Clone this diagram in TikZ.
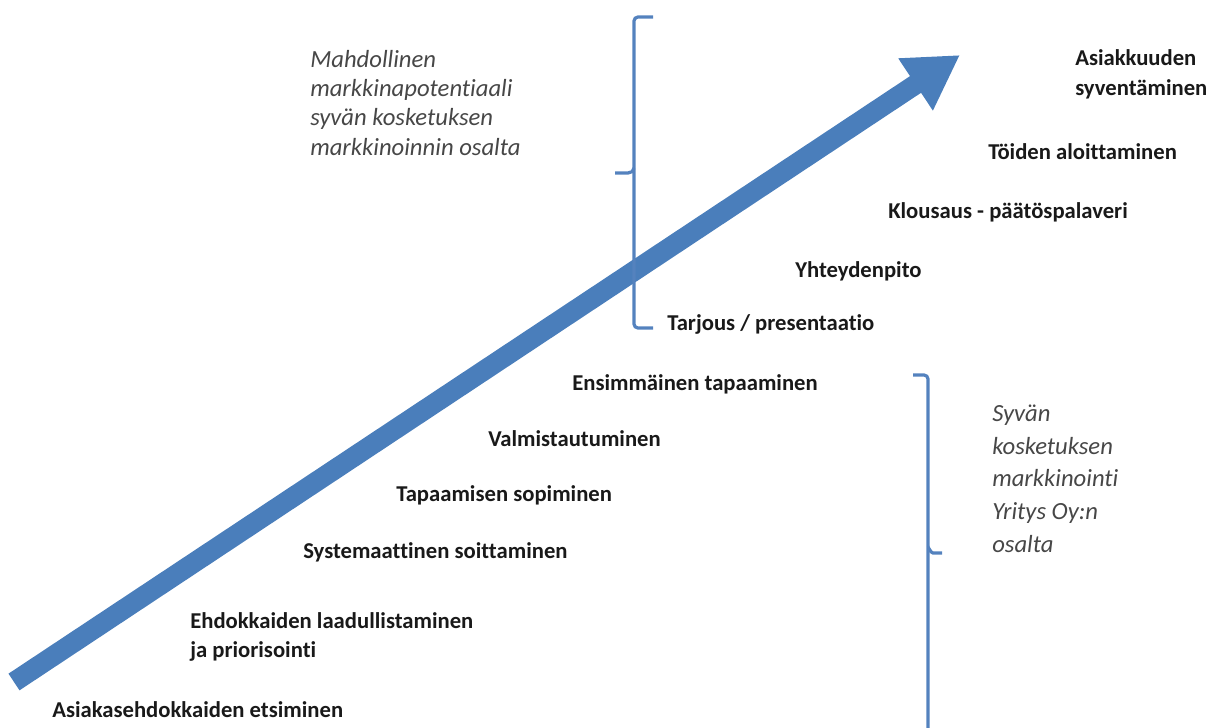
\documentclass[tikz,border=0pt]{standalone}
\usepackage{fontspec}
\setmainfont{Carlito}[Ligatures=NoCommon]
\usetikzlibrary{arrows.meta}
\definecolor{arrowblue}{RGB}{74,126,187}
\definecolor{braceblue}{RGB}{84,130,190}
\begin{document}
\begin{tikzpicture}[x=0.75pt,y=-0.75pt,
    step label/.style={anchor=base west,inner sep=0pt,text=black!90,
      font=\fontsize{17}{22}\selectfont\bfseries,align=left},
    note/.style={anchor=base west,inner sep=0pt,text=black!72,
      font=\fontsize{18.5}{21.8}\selectfont\itshape,align=left},
    bracket/.style={draw=braceblue,line width=2.4pt,rounded corners=3pt}]

  \useasboundingbox (0,0) rectangle (1208,728);

  % big arrow
  \coordinate (tail) at (14,682);
  \coordinate (tip) at (960,55);
  \draw[arrowblue,line width=15pt,
    -{Triangle[length=40pt,width=44pt]}] (tail) -- (tip);

  % steps
  \node[step label] (s1) at (52,717) {Asiakasehdokkaiden etsiminen};
  \node[step label] (s2) at (190,628) {Ehdokkaiden laadullistaminen};
  \node[step label] (s2b) at (190,657) {ja priorisointi};
  \node[step label] (s3) at (303,558) {Systemaattinen soittaminen};
  \node[step label] (s4) at (396,501) {Tapaamisen sopiminen};
  \node[step label] (s5) at (488,446) {Valmistautuminen};
  \node[step label] (s6) at (572,390) {Ensimmäinen tapaaminen};
  \node[step label] (s7) at (667,330) {Tarjous / presentaatio};
  \node[step label] (s8) at (795,277) {Yhteydenpito};
  \node[step label] (s9) at (888,218) {Klousaus - päätöspalaveri};
  \node[step label] (s10) at (988,159) {Töiden aloittaminen};
  \node[step label] (s11) at (1075,65) {Asiakkuuden};
  \node[step label] (s11b) at (1075,95) {syventäminen};

  % braces
  \draw[bracket] (653,17) -- (634,17) -- (634,328) -- (653,328);
  \draw[braceblue,line width=2.4pt] (634,168) to[out=-90,in=0] (628,173) -- (615,173);
  \draw[bracket] (913,375) -- (928,375) -- (928,740);
  \draw[braceblue,line width=2.4pt] (928,548) to[out=90,in=180] (933,553) -- (942,553);

  % notes (base = last line)
  \node[note] (n1) at (310,155) {Mahdollinen\\markkinapotentiaali\\syvän kosketuksen\\markkinoinnin osalta};
  \node[note,font=\fontsize{18.5}{24.4}\selectfont\itshape] (n2) at (992,552)
    {Syvän\\kosketuksen\\markkinointi\\Yritys Oy:n\\osalta};
\end{tikzpicture}
\end{document}
